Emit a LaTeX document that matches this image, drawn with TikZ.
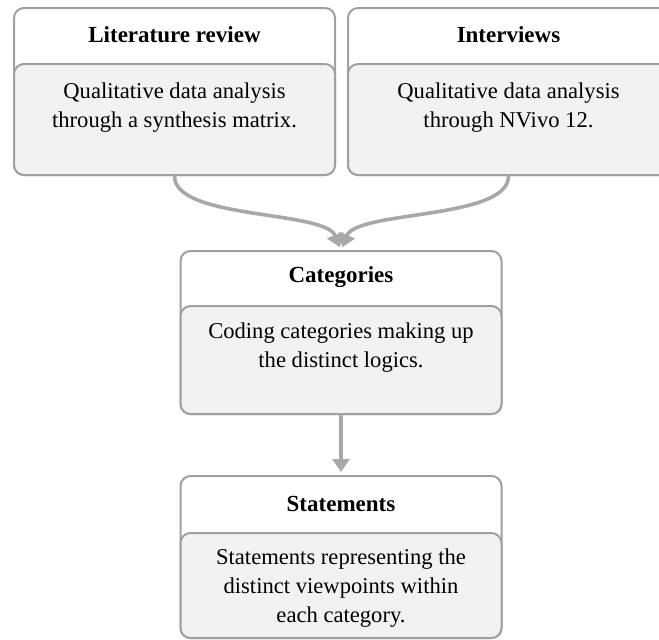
\documentclass[tikz,border=0pt]{standalone}
\usepackage{fontspec}
\setmainfont{Liberation Serif}
\usepackage{tikz}
\usetikzlibrary{arrows.meta, calc, positioning}

\begin{document}
\begin{tikzpicture}
		[line cap=round,
		%Styles
		card/.style={rectangle,rounded corners=5pt,draw=cardline,line width=1pt,fill=white,minimum width=160.5pt,inner sep=0pt},
		panel/.style={card,fill=panelfill},
		headtext/.style={font=\fontsize{11.5}{14.5}\selectfont\bfseries,inner sep=0pt},
		bodytext/.style={font=\fontsize{11.3}{14.5}\selectfont,align=center,inner sep=0pt,anchor=north},
		flow/.style={draw=flowline,line width=1.8pt,-{Triangle[width=8.5pt,length=6.5pt]}}
		]
		
		%Colors
		\definecolor{cardline}{RGB}{160,160,160}
		\definecolor{panelfill}{RGB}{242,242,242}
		\definecolor{flowline}{RGB}{168,168,168}
		
		\useasboundingbox (0,0) rectangle (329.5pt,-319.5pt);
		
		%The graphic
		\node[card,minimum height=83.5pt,anchor=north] (lit) at (87.25pt,-3.5pt) {};
		\node[panel,minimum height=55.5pt,anchor=south] (litPanel) at (lit.south) {};
		\node[headtext] (litHead) at ($(lit.north)!.5!(litPanel.north)$) {Literature review};
		\node[bodytext] (litText) at ([yshift=-9.5pt]litPanel.north) {Qualitative data analysis\\through a synthesis matrix.};
		
		\node[card,minimum height=83.5pt,anchor=north] (inter) at (254.25pt,-3.5pt) {};
		\node[panel,minimum height=55.5pt,anchor=south] (interPanel) at (inter.south) {};
		\node[headtext] (interHead) at ($(inter.north)!.5!(interPanel.north)$) {Interviews};
		\node[bodytext] (interText) at ([yshift=-9.5pt]interPanel.north) {Qualitative data analysis\\through NVivo 12.};
		
		\node[card,minimum height=81.5pt,anchor=north] (cat) at (170.5pt,-125pt) {};
		\node[panel,minimum height=54pt,anchor=south] (catPanel) at (cat.south) {};
		\node[headtext] (catHead) at ($(cat.north)!.5!(catPanel.north)$) {Categories};
		\node[bodytext] (catText) at ([yshift=-8.5pt]catPanel.north) {Coding categories making up\\the distinct logics.};
		
		\node[card,minimum height=81pt,anchor=north] (stat) at (170.5pt,-237.5pt) {};
		\node[panel,minimum height=52.5pt,anchor=south] (statPanel) at (stat.south) {};
		\node[headtext] (statHead) at ($(stat.north)!.5!(statPanel.north)$) {Statements};
		\node[bodytext] (statText) at ([yshift=-8pt]statPanel.north) {Statements representing the\\distinct viewpoints within\\each category.};
		
		\draw[flow,shorten >=1.5pt] (lit.south) .. controls +(0,-22pt) and +(-8pt,20pt) .. (cat.north);
		\draw[flow,shorten >=1.5pt] (inter.south) .. controls +(0,-22pt) and +(8pt,20pt) .. (cat.north);
		\draw[flow,shorten >=1.5pt] (cat.south) -- (stat.north);
	\end{tikzpicture}
\end{document}
